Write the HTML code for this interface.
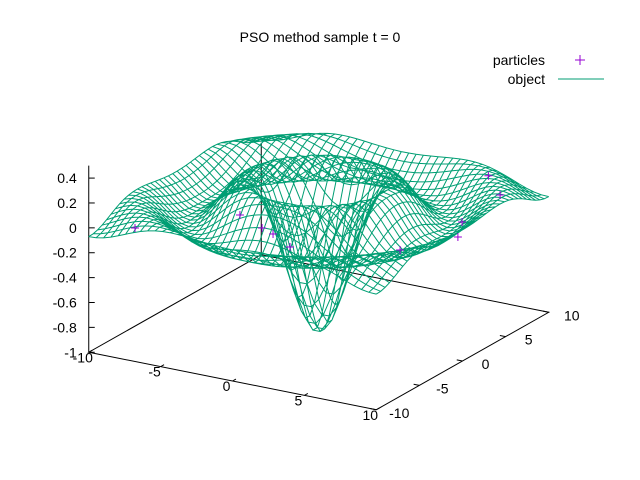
<!DOCTYPE html>
<html><head><meta charset="utf-8"><style>
html,body{margin:0;padding:0;background:#fff;}
svg{display:block;font-family:"Liberation Sans",sans-serif;}
</style></head><body>
<svg id="chart" width="640" height="480" viewBox="0 0 640 480">
<rect width="640" height="480" fill="#fff"/>
<text x="320" y="42" text-anchor="middle" font-size="14">PSO method sample t = 0</text>
<g id="axes"></g>
<g id="mesh"></g>
<g id="parts"></g>
<g>
<text x="545" y="65" text-anchor="end" font-size="14">particles</text>
<path d="M575,60h10M580,55v10" stroke="#9400d3" stroke-width="1"/>
<text x="545" y="84" text-anchor="end" font-size="14">object</text>
<path d="M558,79h46" stroke="#009e73" stroke-width="1"/>
</g>
</svg>
<script>
const xTicks=[-10,-5,0,5,10];
const yTicks=[-10,-5,0,5,10];
const zTicks=[-1,-0.8,-0.6,-0.4,-0.2,0,0.2,0.4];
const zTickLabels=["-1","-0.8","-0.6","-0.4","-0.2","0","0.2","0.4"];
const particleX=[5.80,8.15,8.65,9.80,8.01,2.08,0.03,-3.40,-7.61,-1.08];
const particleY=[10.0,7.44,2.20,-0.20,-3.92,-6.80,-5.35,-3.47,-8.62,-4.77];
const particleZ=[0,0,0,0,0,0,0,0,0,0];
const samples=40;
const NS="http://www.w3.org/2000/svg";
function P(x,y,z){return [318.75+14.375*x+8.625*y, 332.25+2.875*x-4.875*y-124.4*(z+1)];}
function f(x,y){const r=Math.sqrt(x*x+y*y);return r<1e-9?-1:-Math.sin(r)/r;}
function mk(tag,attrs,parent){const e=document.createElementNS(NS,tag);for(const k in attrs)e.setAttribute(k,attrs[k]);parent.appendChild(e);return e;}
const axes=document.getElementById('axes');
const c=[P(-10,-10,-1),P(10,-10,-1),P(10,10,-1),P(-10,10,-1)];
let b=mk('path',{d:'M'+c.map(p=>p.join(',')).join('L')+'Z',fill:'none',stroke:'#000','stroke-width':1},axes);


let zl=mk('path',{d:'M'+P(-10,-10,-1).join(',')+'L'+P(-10,-10,0.5).join(','),stroke:'#000','stroke-width':1},axes);


let bl=mk('path',{d:'M'+P(-10,10,-1).join(',')+'L'+P(-10,10,-0.1).join(','),stroke:'#000','stroke-width':1},axes);


xTicks.forEach(v=>{const p=P(v,-10,-1);const q=P(v,-9.6,-1);
 let t=mk('path',{d:'M'+p.join(',')+'L'+q.join(','),stroke:'#000'},axes);
 
 let l=mk('text',{x:p[0]-6,y:p[1]+10,'text-anchor':'middle','font-size':14},axes);l.textContent=v;
 
 });
yTicks.forEach(v=>{const p=P(10,v,-1);const q=P(9.6,v,-1);
 let t=mk('path',{d:'M'+p.join(',')+'L'+q.join(','),stroke:'#000'},axes);
 
 let l=mk('text',{x:p[0]+23,y:p[1]+8,'text-anchor':'middle','font-size':14},axes);l.textContent=v;
 
 });
zTicks.forEach((v,i)=>{const p=P(-10,-10,v);
 let t=mk('path',{d:'M'+p.join(',')+'h6',stroke:'#000'},axes);
 
 let l=mk('text',{x:p[0]-12,y:p[1]+5,'text-anchor':'end','font-size':14},axes);l.textContent=zTickLabels[i];
 
 });
const mesh=document.getElementById('mesh');
let d='';
const vals=[];for(let i=0;i<samples;i++)vals.push(-10+20*i/(samples-1));
for(let i=0;i<samples;i++){let s='';for(let j=0;j<samples;j++){const p=P(vals[i],vals[j],f(vals[i],vals[j]));s+=(j?'L':'M')+p[0].toFixed(1)+','+p[1].toFixed(1);}d+=s;
 s='';for(let j=0;j<samples;j++){const p=P(vals[j],vals[i],f(vals[j],vals[i]));s+=(j?'L':'M')+p[0].toFixed(1)+','+p[1].toFixed(1);}d+=s;}
let m=mk('path',{d:d,fill:'none',stroke:'#009e73','stroke-width':1},mesh);


const parts=document.getElementById('parts');
particleX.forEach((x,i)=>{const p=P(x,particleY[i],particleZ[i]);
 let e=mk('path',{d:`M${p[0]-4},${p[1]}h8M${p[0]},${p[1]-4}v8`,stroke:'#9400d3','stroke-width':1},parts);
 
 });
</script>
</body></html>
